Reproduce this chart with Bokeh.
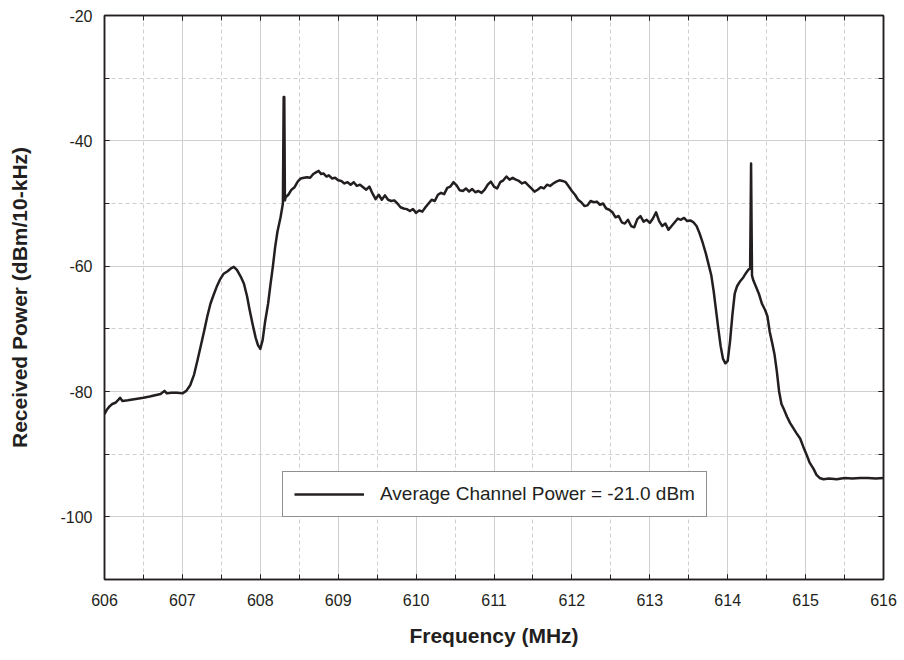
from bokeh.plotting import figure
from bokeh.models import (SingleIntervalTicker, Legend, LegendItem, Range1d,
                          CustomJSTickFormatter, LinearAxis)
from bokeh.embed import file_html
from bokeh.resources import INLINE

# ---- data ----
freq_mhz = [
    606.00, 606.03, 606.07, 606.10, 606.14, 606.18, 606.20, 606.23, 606.30, 606.40,
    606.50, 606.58, 606.65, 606.72, 606.77, 606.80, 606.86, 606.93, 607.00, 607.05,
    607.10, 607.15, 607.19, 607.24, 607.28, 607.32, 607.36, 607.40, 607.44, 607.48,
    607.53, 607.58, 607.63, 607.66, 607.70, 607.75, 607.79, 607.83, 607.86, 607.90,
    607.94, 607.97, 608.00, 608.03, 608.06, 608.10, 608.13, 608.16, 608.19, 608.22,
    608.26, 608.29, 608.300, 608.308, 608.316, 608.325, 608.36, 608.40, 608.44, 608.48,
    608.52, 608.56, 608.60, 608.64, 608.68, 608.72, 608.75, 608.78, 608.81, 608.85,
    608.88, 608.92, 608.96, 609.00, 609.04, 609.08, 609.12, 609.16, 609.20, 609.24,
    609.28, 609.32, 609.36, 609.40, 609.44, 609.48, 609.52, 609.56, 609.60, 609.64,
    609.68, 609.72, 609.76, 609.80, 609.84, 609.88, 609.92, 609.96, 610.00, 610.04,
    610.08, 610.12, 610.16, 610.20, 610.24, 610.28, 610.32, 610.36, 610.40, 610.44,
    610.48, 610.52, 610.56, 610.60, 610.64, 610.68, 610.72, 610.76, 610.80, 610.84,
    610.88, 610.92, 610.96, 611.00, 611.04, 611.08, 611.12, 611.16, 611.20, 611.24,
    611.28, 611.32, 611.36, 611.40, 611.44, 611.48, 611.52, 611.56, 611.60, 611.64,
    611.68, 611.72, 611.76, 611.80, 611.84, 611.88, 611.92, 611.96, 612.00, 612.04,
    612.08, 612.12, 612.16, 612.20, 612.24, 612.28, 612.32, 612.36, 612.40, 612.44,
    612.48, 612.52, 612.56, 612.60, 612.64, 612.68, 612.72, 612.76, 612.80, 612.84,
    612.88, 612.92, 612.96, 613.00, 613.04, 613.08, 613.12, 613.16, 613.20, 613.24,
    613.28, 613.32, 613.36, 613.40, 613.44, 613.48, 613.52, 613.56, 613.60, 613.64,
    613.68, 613.72, 613.76, 613.79, 613.82, 613.85, 613.88, 613.91, 613.94, 613.97,
    614.00, 614.03, 614.06, 614.09, 614.12, 614.16, 614.20, 614.24, 614.27, 614.288,
    614.300, 614.312, 614.33, 614.37, 614.40, 614.44, 614.48, 614.51, 614.54, 614.57,
    614.60, 614.63, 614.66, 614.69, 614.72, 614.76, 614.80, 614.84, 614.88, 614.93,
    614.97, 615.01, 615.05, 615.10, 615.14, 615.18, 615.23, 615.30, 615.40, 615.50,
    615.60, 615.70, 615.80, 615.90, 616.00,
]
power_dbm = [
    -83.6, -82.9, -82.3, -82.0, -81.8, -81.3, -81.0, -81.5, -81.4, -81.2,
    -81.0, -80.8, -80.6, -80.4, -79.9, -80.3, -80.2, -80.2, -80.3, -79.9,
    -79.0, -77.3, -75.2, -72.5, -70.3, -68.0, -66.0, -64.6, -63.3, -62.2,
    -61.2, -60.8, -60.3, -60.1, -60.6, -61.7, -62.8, -64.8, -66.8, -69.2,
    -71.4, -72.6, -73.2, -71.8, -69.0, -66.0, -63.0, -60.2, -57.0, -54.5,
    -52.2, -50.0, -33.0, -33.0, -49.5, -49.0, -48.6, -47.8, -47.4, -46.5,
    -46.0, -45.9, -45.8, -45.9, -45.3, -45.0, -44.8, -45.3, -45.2, -45.7,
    -45.5, -46.0, -45.9, -46.3, -46.4, -46.8, -46.6, -47.0, -46.6, -47.2,
    -47.0, -47.4, -47.8, -47.3, -48.4, -49.3, -48.6, -49.4, -48.7, -49.4,
    -49.6, -49.5, -50.0, -50.6, -50.8, -50.9, -51.2, -50.9, -51.5, -51.1,
    -51.3, -50.6, -50.0, -49.4, -49.6, -48.6, -48.3, -48.5, -47.5, -47.3,
    -46.6, -47.1, -47.9, -48.0, -47.6, -48.1, -47.7, -48.2, -48.0, -48.3,
    -47.8, -47.0, -46.5, -47.3, -47.6, -46.6, -46.3, -45.7, -46.2, -45.9,
    -46.2, -46.4, -46.8, -46.6, -47.1, -47.6, -48.1, -47.8, -47.4, -47.6,
    -47.0, -47.2, -46.8, -46.5, -46.3, -46.4, -46.6, -47.3, -48.0, -48.6,
    -49.4, -49.8, -50.4, -50.3, -49.6, -49.8, -49.7, -50.2, -50.0, -50.8,
    -51.0, -51.4, -52.2, -52.0, -53.0, -53.2, -52.6, -53.6, -53.8, -52.5,
    -52.0, -52.9, -52.6, -53.1, -52.4, -51.4, -52.8, -53.6, -53.2, -54.2,
    -53.6, -53.0, -52.4, -52.6, -52.3, -52.8, -52.7, -53.0, -53.6, -54.8,
    -56.3, -58.0, -60.0, -61.5, -64.0, -67.0, -70.0, -72.8, -74.8, -75.5,
    -75.1, -72.0, -67.8, -64.4, -63.2, -62.4, -61.8, -61.0, -60.5, -60.4,
    -43.6, -61.5, -62.3, -63.5, -64.4, -66.0, -67.0, -68.0, -70.5, -72.2,
    -74.0, -76.7, -80.0, -82.0, -82.8, -84.0, -85.0, -85.8, -86.6, -87.5,
    -88.8, -90.0, -91.3, -92.3, -93.3, -93.8, -94.0, -93.9, -94.0, -93.8,
    -93.9, -93.8, -93.8, -93.9, -93.8,
]
x_range_mhz = (606, 616)
y_range_dbm = (-110, -20)
legend_label = "Average Channel Power = -21.0 dBm"
x_title = "Frequency (MHz)"
y_title = "Received Power (dBm/10-kHz)"

FONT = "Liberation Sans"
INK = "#231f20"
GRID = "#cfcfcf"

p = figure(
    output_backend="svg", toolbar_location=None,
    width=900, height=654,
    x_range=Range1d(*x_range_mhz), y_range=Range1d(*y_range_dbm),
    min_border_left=104, min_border_right=17, min_border_top=15, min_border_bottom=75,
    background_fill_color="white", border_fill_color="white",
)
p.outline_line_color = INK
p.outline_line_width = 1.5

xt = SingleIntervalTicker(interval=1, num_minor_ticks=2)
yt = SingleIntervalTicker(interval=20, num_minor_ticks=2)
p.xaxis.ticker = xt
p.yaxis.ticker = yt
p.xgrid.ticker = xt
p.ygrid.ticker = yt

fmt = CustomJSTickFormatter(code="return tick.toFixed(0);")
blank = CustomJSTickFormatter(code="return '';")

for g in (p.xgrid, p.ygrid):
    g.grid_line_color = GRID
    g.grid_line_width = 1
    g.minor_grid_line_color = GRID
    g.minor_grid_line_dash = "4 3"
    g.minor_grid_line_width = 1

for ax in (p.xaxis, p.yaxis):
    ax.formatter = fmt
    ax.axis_line_color = INK
    ax.axis_line_width = 1.5
    ax.major_tick_in = 5
    ax.major_tick_out = 0
    ax.minor_tick_in = 5
    ax.minor_tick_out = 0
    ax.major_tick_line_color = INK
    ax.minor_tick_line_color = INK
    ax.major_label_text_font = FONT
    ax.major_label_text_font_size = "16px"
    ax.major_label_text_color = INK
    ax.axis_label_text_font = FONT
    ax.axis_label_text_font_size = "21px"
    ax.axis_label_text_font_style = "bold"
    ax.axis_label_text_color = INK

p.xaxis.major_label_standoff = 14
p.yaxis.major_label_standoff = 12
p.xaxis.axis_label = x_title
p.yaxis.axis_label = y_title
p.xaxis.axis_label_standoff = 15
p.yaxis.axis_label_standoff = 26

# mirrored inner ticks on the top and right edges of the frame
for loc, tk in (("above", xt), ("right", yt)):
    a = LinearAxis(ticker=tk, formatter=blank, major_label_text_color=None,
                   major_label_standoff=0,
                   major_tick_in=5, major_tick_out=0, minor_tick_in=5, minor_tick_out=0,
                   major_tick_line_color=INK, minor_tick_line_color=INK,
                   axis_line_color=INK, axis_line_width=1.5)
    p.add_layout(a, loc)

r = p.line(freq_mhz, power_dbm, line_color=INK, line_width=2.5, line_join="round")

legend = Legend(items=[LegendItem(label=legend_label, renderers=[r])],
                location=(178, 62))
legend.border_line_color = INK
legend.border_line_width = 1
legend.padding = 11
legend.margin = 0
legend.glyph_width = 70
legend.glyph_height = 22
legend.label_height = 22
legend.label_standoff = 16
legend.label_text_font = FONT
legend.label_text_font_size = "19px"
legend.label_text_color = INK
legend.background_fill_alpha = 1
p.add_layout(legend, "center")

open("out.html", "w").write(file_html(p, INLINE))
